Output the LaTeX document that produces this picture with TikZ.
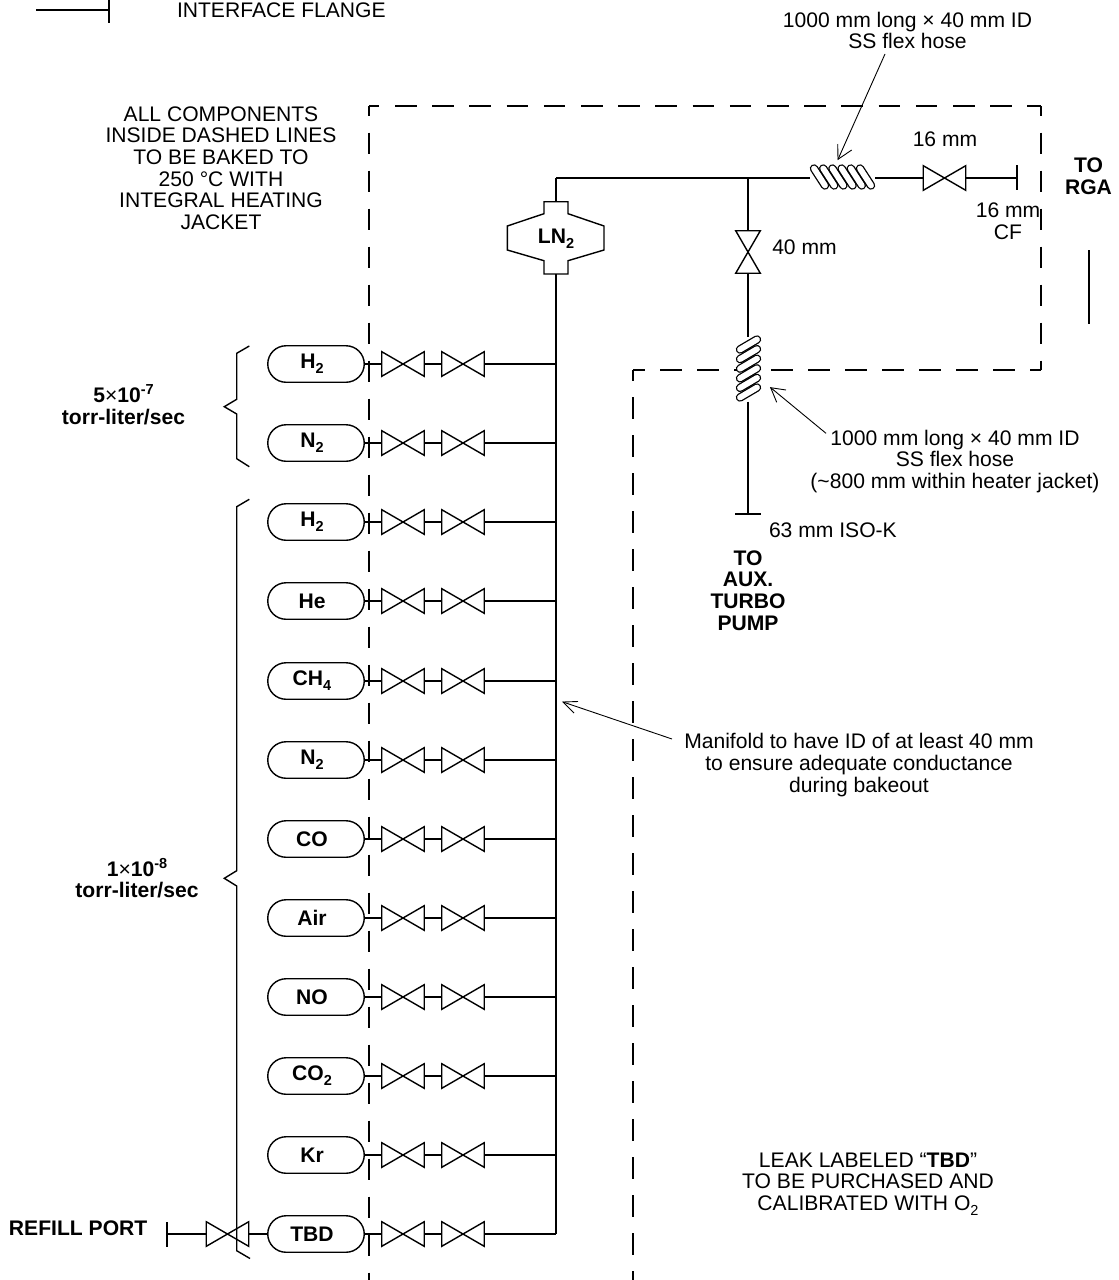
\documentclass[tikz,border=0pt]{standalone}
\usepackage{fontspec}
\setmainfont{Liberation Sans}
\usetikzlibrary{shapes.misc,calc}
\newcommand\sbb[1]{\raisebox{-5pt}{\fontsize{14.5}{12}\selectfont #1}}
\newcommand\spp[1]{\raisebox{8pt}{\fontsize{14.5}{12}\selectfont #1}}
\newcommand\vth{{\mdseries ×}}
\tikzset{
  x=1pt,y=-1pt,
  pipe/.style={line width=1.4pt,line join=miter},
  txt/.style={inner sep=0,outer sep=0,align=center,font=\fontsize{21.1}{21.7}\selectfont},
  btxt/.style={txt,font=\fontsize{21.1}{21.7}\selectfont\bfseries},
  gas/.style={rounded rectangle,draw,pipe,minimum width=96.5pt,minimum height=36.5pt,inner sep=0,outer sep=0},
  valveh/.style={minimum width=42.5pt,minimum height=24.6pt,inner sep=0,outer sep=0},
  valvev/.style={minimum width=24.6pt,minimum height=42.5pt,inner sep=0,outer sep=0},
  coilbox/.style={inner sep=0,outer sep=0},
  dashv/.style={line width=1.3pt,dash pattern=on 21.5pt off 16.5pt},
  dashh/.style={line width=1.3pt,dash pattern=on 21.5pt off 15.7pt},
  leader/.style={line width=0.9pt},
}
\newcommand\valvetie[1]{\draw[pipe] (#1.north west)--(#1.south east)--(#1.north east)--(#1.south west)--cycle;}
\newcommand\valvetiev[1]{\draw[pipe] (#1.north west)--(#1.north east)--(#1.south west)--(#1.south east)--cycle;}
\newcommand\sausage[2]{\draw[line width=8.4pt,line cap=round] #1 -- #2; \draw[white,line width=5.8pt,line cap=round] #1 -- #2;}
\begin{document}
\begin{tikzpicture}
\useasboundingbox (0,0) rectangle (1119,1280);
% dashed enclosure
\draw[dashv,dash phase=11.3pt] (369,106)--(369,1280);
\draw[dashh,dash phase=11.2pt] (369,106)--(1041,106);
\draw[dashv,dash phase=11.3pt] (1041,106)--(1041,370);
\draw[dashh,dash phase=10.5pt,dash pattern=on 21.5pt off 15.5pt] (1041,370)--(633,370);
\draw[dashv,dash phase=10.8pt] (633,370)--(633,1280);
% legend
\coordinate (lg0) at (36,10); \coordinate (lg1) at (109,10);
\draw[pipe] (lg0)--(lg1); \draw[pipe] (109,0)--(109,23);
\node[txt,anchor=west] (lgt) at (177,10) {INTERFACE FLANGE};
% stray line
\coordinate (st0) at (1089,250); \coordinate (st1) at (1089,324);
\draw[pipe] (st0)--(st1);
% LN2 trap
\node[inner sep=0,outer sep=0,minimum width=97pt,minimum height=72.4pt] (trap) at (556,237.9) {};
\draw[pipe] (544,201.7)--(568,201.7)--(568,213.7)--(604,226)--(604,250)--(568,260.7)--(568,274)--(544,274)--(544,260.7)--(507.3,250)--(507.3,226)--(544,213.7)--cycle;
\node[btxt] (lnt) at (556,239) {LN\sbb{2}};
% manifold
\coordinate (mtop) at (556,178);
\coordinate (mbot) at (556,1234);
\draw[pipe] (trap.north)--(mtop);
\draw[pipe] (trap.south)--(mbot);
% top run
\node[coilbox,minimum width=65pt,minimum height=24pt] (coilh) at (842.5,178) {};
\node[valveh] (vtop) at (944.5,178) {};
\valvetie{vtop}
\coordinate (ftop) at (1017,178);
\coordinate (tee) at (748,178);
\draw[pipe] (mtop)--(coilh.west);
\draw[pipe] (coilh.east)--(vtop.west);
\draw[pipe] (vtop.east)--(ftop);
\draw[pipe] (1017,165)--(1017,190);
\foreach \i in {0,...,5}{
  \sausage{({814+9.2*\i},168.5)}{({825+9.2*\i},185.5)}
}
% down run
\node[valvev] (vdown) at (748,252) {};
\valvetiev{vdown}
\node[coilbox,minimum width=24pt,minimum height=65pt] (coilv) at (748,369) {};
\coordinate (fbot) at (748,514);
\draw[pipe] (tee)--(vdown.north);
\draw[pipe] (vdown.south)--(coilv.north);
\draw[pipe] (coilv.south)--(fbot);
\draw[pipe] (735,514)--(761,514);
\foreach \i in {0,...,5}{
  \sausage{(740,{349.5+9.6*\i})}{(757,{339.5+9.6*\i})}
}
% rows
\foreach \nm/\lab/\yy in {a/H\sbb{2}/364,b/N\sbb{2}/443,c/H\sbb{2}/522,d/He/601,e/CH\sbb{4}/681,f/N\sbb{2}/760,g/CO/839,h/Air/918,i/NO/997,j/CO\sbb{2}/1076,k/Kr/1155,l/TBD/1234}{
  \node[gas] (g\nm) at (316,\yy) {};
  \node[btxt] (gt\nm) at (312,\yy) {\lab};
  \node[valveh] (va\nm) at (403,\yy) {};
  \node[valveh] (vb\nm) at (463,\yy) {};
  \valvetie{va\nm}
  \valvetie{vb\nm}
  \coordinate (m\nm) at (556,\yy);
  \draw[pipe] (g\nm.east)--(va\nm.west);
  \draw[pipe] (va\nm.east)--(vb\nm.west);
  \draw[pipe] (vb\nm.east)--(m\nm);
}
% refill
\coordinate (frf) at (167,1234);
\node[valveh] (vrf) at (227.5,1234) {};
\valvetie{vrf}
\draw[pipe] (frf)--(vrf.west);
\draw[pipe] (vrf.east)--(gl.west);
\draw[pipe] (167,1222)--(167,1247);
\node[btxt,anchor=west] (rft) at (9,1228.5) {REFILL PORT};
% braces
\draw[pipe] (249.3,346)--(236.7,353.3)--(236.7,399.3)--(224.3,406.7)--(236.7,414)--(236.7,458.7)--(249.3,466.7);
\draw[pipe] (249.3,499.3)--(236.7,506.7)--(236.7,870.7)--(224.3,878.3)--(236.7,886)--(236.7,1250.7)--(250,1258.5);
\node[btxt] (r1) at (123.5,405) {5\vth 10\spp{-7}\\torr-liter/sec};
\node[btxt] (r2) at (137,878) {1\vth 10\spp{-8}\\torr-liter/sec};
% labels
\node[txt] (hs1) at (907.5,30.5) {1000 mm long × 40 mm ID\\SS flex hose};
\node[txt] (bake) at (221,168) {ALL COMPONENTS\\INSIDE DASHED LINES\\TO BE BAKED TO\\250 °C WITH\hspace{6pt}\\INTEGRAL HEATING\\JACKET};
\node[txt] (l16) at (945,139) {16 mm};
\node[txt] (lcf) at (1008,221.5) {16 mm\\CF};
\node[btxt] (rga) at (1088.5,176.5) {TO\\RGA};
\node[txt] (l40) at (804.5,247) {40 mm};
\node[txt] (hs2) at (955,461.5) {1000 mm long × 40 mm ID\\SS flex hose\\(\textasciitilde 800 mm within heater jacket)};
\node[txt,anchor=west] (iso) at (769,530) {63 mm ISO-K};
\node[btxt] (aux) at (748,590.5) {TO\\AUX.\\TURBO\\PUMP};
\node[txt] (man) at (859,765) {Manifold to have ID of at least 40 mm\\to ensure adequate conductance\\during bakeout};
\node[txt] (leak) at (868,1184) {LEAK LABELED “\textbf{TBD}”\\TO BE PURCHASED AND\\CALIBRATED WITH O\sbb{2}};
% leaders
\coordinate (t1) at (885,54); \coordinate (h1) at (838,159.3);
\draw[leader] (t1)--(h1);
\draw[leader] (837.7,144)--(h1)--(851.7,150);
\coordinate (t2) at (826,433.3); \coordinate (h2) at (770.7,387.7);
\draw[leader] (t2)--(h2);
\draw[leader] (786,390)--(h2)--(776.7,402.3);
\coordinate (t3) at (672,739); \coordinate (h3) at (563,702);
\draw[leader] (t3)--(h3);
\draw[leader] (578,701.5)--(h3)--(574,713);
\end{tikzpicture}
\end{document}
